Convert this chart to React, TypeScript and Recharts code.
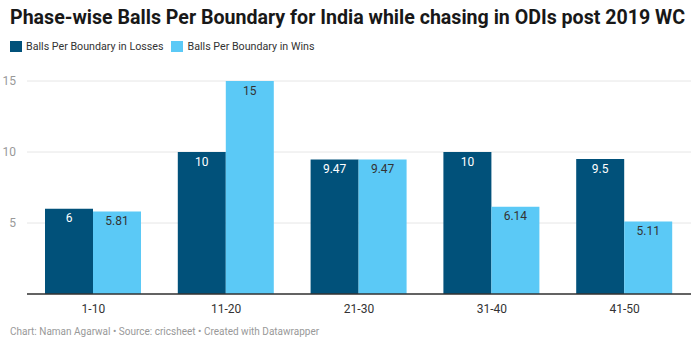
import React from "react";
import { BarChart, Bar, XAxis, YAxis, CartesianGrid, LabelList } from "recharts";

const phases = ["1-10", "11-20", "21-30", "31-40", "41-50"];
const lossValues = [6, 10, 9.47, 10, 9.5];
const winValues = [5.81, 15, 9.47, 6.14, 5.11];
const yTicks = [0, 5, 10, 15];

const DARK = "#01517a";
const LIGHT = "#5bc9f6";
const FONT = "Roboto, 'Noto Sans', sans-serif";

const data = phases.map((p, i) => ({ phase: p, loss: lossValues[i], win: winValues[i] }));

export default function App() {
  return (
    <div
      style={{
        position: "absolute",
        left: 0,
        top: 0,
        width: 700,
        height: 349,
        background: "#fff",
        fontFamily: FONT,
        overflow: "hidden",
      }}
    >
      <div
        style={{
          position: "absolute",
          left: 10,
          top: 6,
          fontSize: 19.6,
          fontWeight: 700,
          color: "#181818",
          whiteSpace: "nowrap",
        }}
      >
        Phase-wise Balls Per Boundary for India while chasing in ODIs post 2019 WC
      </div>

      {/* legend */}
      <div
        style={{
          position: "absolute",
          left: 10,
          top: 40,
          display: "flex",
          alignItems: "center",
          fontSize: 10.7,
          color: "#333",
          whiteSpace: "nowrap",
        }}
      >
        <div style={{ width: 12, height: 11, background: DARK, marginRight: 4 }} />
        <span style={{ marginRight: 8 }}>Balls Per Boundary in Losses</span>
        <div style={{ width: 12, height: 11, background: LIGHT, marginRight: 4 }} />
        <span>Balls Per Boundary in Wins</span>
      </div>

      <div style={{ position: "absolute", left: 0, top: 0 }}>
        <BarChart
          width={700}
          height={349}
          data={data}
          margin={{ top: 81, right: 9, left: 0, bottom: 25 }}
          barCategoryGap={18}
          barGap={0}
        >
          <CartesianGrid stroke="#e6e6e6" vertical={false} />
          <XAxis
            dataKey="phase"
            tickLine={false}
            axisLine={{ stroke: "#333", strokeWidth: 1.5 }}
            tick={{ fill: "#333", fontSize: 12, fontFamily: FONT }}
            tickMargin={4}
            height={30}
          />
          <YAxis
            domain={[0, 15]}
            ticks={yTicks}
            tickFormatter={(v: number) => (v === 0 ? "" : String(v))}
            axisLine={false}
            tickLine={false}
            width={27}
            tickMargin={5}
            tick={{ fill: "#999", fontSize: 12, fontFamily: FONT }}
          />
          <Bar dataKey="loss" fill={DARK} isAnimationActive={false}>
            <LabelList
              dataKey="loss"
              position="insideTop"
              offset={5}
              fill="#fff"
              fontSize={12}
              fontFamily={FONT}
            />
          </Bar>
          <Bar dataKey="win" fill={LIGHT} isAnimationActive={false}>
            <LabelList
              dataKey="win"
              position="insideTop"
              offset={5}
              fill="#333"
              fontSize={12}
              fontFamily={FONT}
            />
          </Bar>
        </BarChart>
      </div>

      <div
        style={{
          position: "absolute",
          left: 10,
          top: 326,
          fontSize: 10,
          color: "#999",
          whiteSpace: "nowrap",
        }}
      >
        Chart: Naman Agarwal • Source: cricsheet • Created with Datawrapper
      </div>
    </div>
  );
}
